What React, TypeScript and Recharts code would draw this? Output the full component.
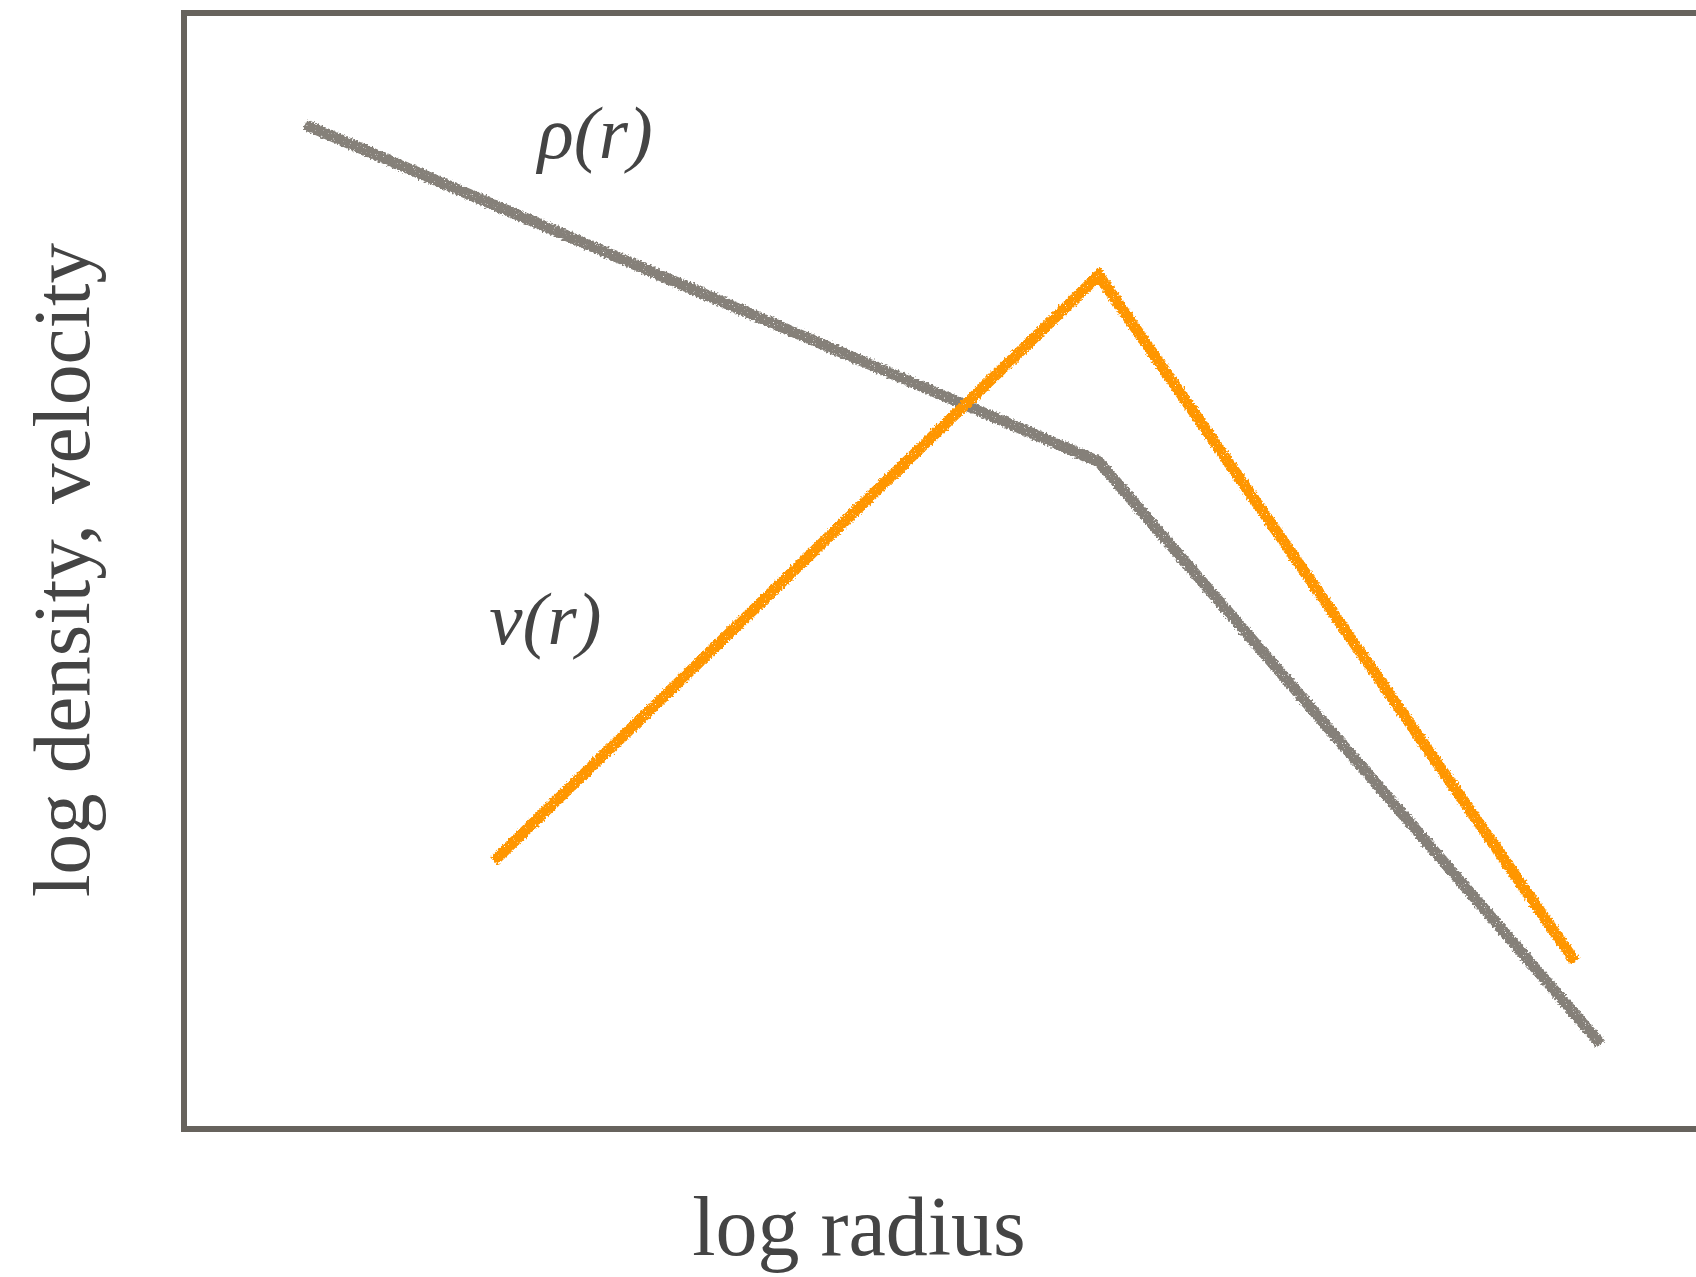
import React from "react";
import { LineChart, Line, XAxis, YAxis, ReferenceDot, ReferenceLine, Label } from "recharts";

// Schematic profiles in arbitrary log units (0–10 on both axes)
const densityRadius = [0.8, 6.05, 9.37];
const densityValue = [9.0, 5.98, 0.76];
const velocityRadius = [2.05, 6.05, 9.2];
const velocityValue = [2.4, 7.65, 1.5];

const axisMin = 0;
const axisMax = 10;

const xTitle = "log radius";
const yTitle = "log density, velocity";
const densityName = "ρ(r)";
const velocityName = "v(r)";

const densityData = densityRadius.map((r, i) => ({ r, val: densityValue[i] }));
const velocityData = velocityRadius.map((r, i) => ({ r, val: velocityValue[i] }));

const FRAME = "#67635d";
const TEXT = "#444444";
const SERIF = "Liberation Serif, DejaVu Serif, serif";

const W = 1696;
const H = 1277;

const italicLabel = (text: string) => (props: any) => {
  const vb = props.viewBox || {};
  const cx = (vb.x ?? 0) + (vb.width ?? 0) / 2;
  const cy = (vb.y ?? 0) + (vb.height ?? 0) / 2;
  return (
    <text
      x={cx}
      y={cy}
      dy={18}
      textAnchor="middle"
      fontFamily={SERIF}
      fontStyle="italic"
      fontSize={75}
      fill={TEXT}
    >
      {text}
    </text>
  );
};

const frameProps = {
  stroke: FRAME,
  strokeWidth: 6,
  strokeLinecap: "square" as const,
  ifOverflow: "visible" as const,
};

export default function App() {
  return (
    <div style={{ position: "absolute", left: 0, top: 0, width: W, height: H, background: "#fff" }}>
      <svg width={0} height={0} style={{ position: "absolute" }}>
        <defs>
          {/* rough chalk-like stroke: wobble the edges, then punch a few grain holes */}
          <filter id="chalk" x="-5%" y="-5%" width="110%" height="110%">
            <feTurbulence type="fractalNoise" baseFrequency="0.5" numOctaves={2} seed={4} result="noise" />
            <feDisplacementMap in="SourceGraphic" in2="noise" scale={6} xChannelSelector="R" yChannelSelector="G" result="disp" />
            <feTurbulence type="fractalNoise" baseFrequency="0.9" numOctaves={1} seed={9} result="grain" />
            <feColorMatrix in="grain" type="matrix" values="0 0 0 0 0  0 0 0 0 0  0 0 0 0 0  8 0 0 0 -1.6" result="grainAlpha" />
            <feComposite in="disp" in2="grainAlpha" operator="in" />
          </filter>
        </defs>
      </svg>
      <LineChart
        width={W}
        height={H}
        margin={{ top: 13, right: 0, bottom: 148, left: 184 }}
        style={{ fontFamily: SERIF }}
      >
        <XAxis type="number" dataKey="r" domain={[axisMin, axisMax]} allowDataOverflow hide />
        <YAxis type="number" domain={[axisMin, axisMax]} allowDataOverflow hide />

        {/* frame: bottom, top and left edges of the plot area */}
        <ReferenceLine y={axisMin} {...frameProps}>
          <Label
            content={(props: any) => {
              const vb = props.viewBox || {};
              return (
                <text
                  x={859}
                  y={(vb.y ?? 0) + 126}
                  textAnchor="middle"
                  fontFamily={SERIF}
                  fontSize={84}
                  fill={TEXT}
                >
                  {xTitle}
                </text>
              );
            }}
          />
        </ReferenceLine>
        <ReferenceLine y={axisMax} {...frameProps} />
        <ReferenceLine x={axisMin} {...frameProps}>
          <Label
            content={() => (
              <text
                x={0}
                y={0}
                transform="translate(89, 570) rotate(-90)"
                textAnchor="middle"
                fontFamily={SERIF}
                fontSize={81}
                fill={TEXT}
              >
                {yTitle}
              </text>
            )}
          />
        </ReferenceLine>

        <Line
          data={densityData}
          dataKey="val"
          type="linear"
          stroke="#858079"
          strokeWidth={11}
          dot={false}
          activeDot={false}
          isAnimationActive={false}
          filter="url(#chalk)"
        />
        <Line
          data={velocityData}
          dataKey="val"
          type="linear"
          stroke="#ff9600"
          strokeWidth={11}
          dot={false}
          activeDot={false}
          isAnimationActive={false}
          filter="url(#chalk)"
        />
        <ReferenceDot x={2.72} y={8.86} r={0} fill="none" stroke="none">
          <Label position="center" content={italicLabel(densityName)} />
        </ReferenceDot>
        <ReferenceDot x={2.39} y={4.51} r={0} fill="none" stroke="none">
          <Label position="center" content={italicLabel(velocityName)} />
        </ReferenceDot>
      </LineChart>
    </div>
  );
}
